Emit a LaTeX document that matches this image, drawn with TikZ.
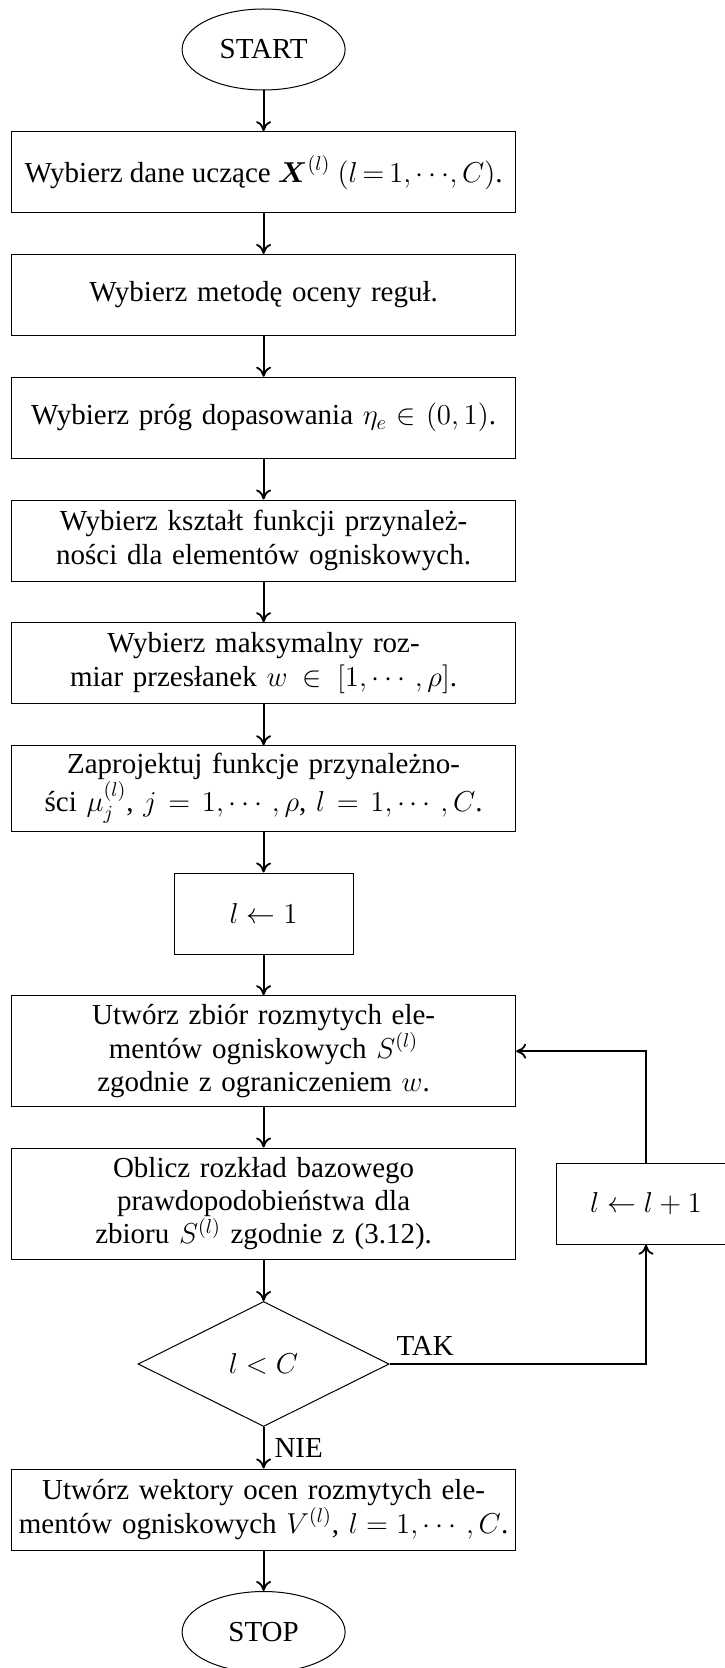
\documentclass[tikz,border=0pt]{standalone}
\usepackage{amsmath}
\usepackage{fontspec}
\setmainfont{Liberation Serif}
\usetikzlibrary{shapes.geometric,arrows.meta}
\tikzset{
  basefont/.style={font=\fontsize{14.5pt}{16.7pt}\selectfont},
  terminal/.style={ellipse, draw, line width=0.5pt, minimum width=81.5pt, minimum height=40.5pt, inner sep=0pt, basefont},
  procbox/.style={rectangle, draw, line width=0.5pt, text width=246pt, inner xsep=3pt, inner ysep=0pt, minimum height=40.5pt, align=center, basefont},
  linebox/.style={rectangle, draw, line width=0.5pt, minimum width=252pt, inner sep=0pt, minimum height=40.5pt, basefont},
  smallbox/.style={rectangle, draw, line width=0.5pt, minimum width=89.5pt, minimum height=40.5pt, inner sep=0pt, basefont},
  decision/.style={diamond, draw, line width=0.5pt, minimum width=125.5pt, minimum height=62.5pt, inner sep=0pt, basefont},
  flow/.style={line width=0.9pt, -{To[length=5pt,width=7.5pt]}},
  lbl/.style={inner sep=0pt, basefont}
}
\begin{document}
\begin{tikzpicture}[x=0.5pt, y=-0.5pt]
\path[use as bounding box] (0,0) rectangle (724,1668);
\node[terminal] (start) at (263.6,49.5) {START};
\node[linebox] (b1) at (263.6,172.2) {Wybierz dane uczące $\boldsymbol{X}^{(l)}$ $(l\,{=}\,1,\cdots\!,C)$.};
\node[procbox] (b2) at (263.6,295) {Wybierz metodę oceny reguł.};
\node[procbox] (b3) at (263.6,417.8) {Wybierz próg dopasowania $\eta_e\in(0,1)$.};
\node[procbox] (b4) at (263.6,540.5) {Wybierz kształt funkcji przynależ-\\ności dla elementów ogniskowych.};
\node[procbox] (b5) at (263.6,663.2) {Wybierz maksymalny roz-\\miar przesłanek $w\in[1,\cdots,\rho]$.};
\node[procbox, minimum height=42.6pt] (b6) at (263.6,788.4) {Zaprojektuj funkcje przynależno-\\ści $\mu_j^{(l)}$, $j=1,\cdots,\rho$, $l=1,\cdots,C$.};
\node[smallbox] (l1) at (263.6,913.5) {$l\leftarrow 1$};
\node[procbox, minimum height=55.5pt] (b7) at (263.6,1051.2) {Utwórz zbiór rozmytych ele-\\mentów ogniskowych $S^{(l)}$\\zgodnie z ograniczeniem $w$.};
\node[procbox, minimum height=55.5pt] (b8) at (263.6,1203.5) {Oblicz rozkład bazowego\\prawdopodobieństwa dla\\zbioru $S^{(l)}$ zgodnie z (3.12).};
\node[smallbox] (inc) at (646,1203.7) {$l\leftarrow l+1$};
\node[decision] (dec) at (263.6,1364) {$l<C$};
\node[procbox] (b9) at (263.6,1509.5) {Utwórz wektory ocen rozmytych ele-\\mentów ogniskowych $V^{(l)}$, $l=1,\cdots,C$.};
\node[terminal] (stop) at (263.6,1632) {STOP};

\draw[flow] (start) -- (b1);
\draw[flow] (b1) -- (b2);
\draw[flow] (b2) -- (b3);
\draw[flow] (b3) -- (b4);
\draw[flow] (b4) -- (b5);
\draw[flow] (b5) -- (b6);
\draw[flow] (b6) -- (l1);
\draw[flow] (l1) -- (b7);
\draw[flow] (b7) -- (b8);
\draw[flow] (b8) -- (dec);
\draw[flow] (dec) -- node[lbl, anchor=west, xshift=5pt] {NIE} (b9);
\draw[flow] (b9) -- (stop);
\draw[flow] (dec.east) node[lbl, anchor=base west, xshift=3pt, yshift=4.5pt] {TAK} -| (inc.south);
\draw[flow] (inc.north) |- (b7.east);
\end{tikzpicture}
\end{document}
